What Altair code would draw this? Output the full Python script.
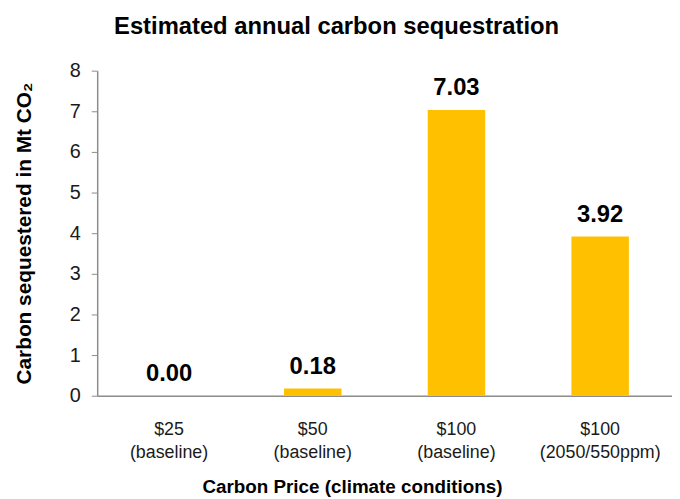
import altair as alt
import pandas as pd

categories = ["$25|(baseline)", "$50|(baseline)", "$100|(baseline)", "$100|(2050/550ppm)"]
values = [0.00, 0.18, 7.03, 3.92]

df = pd.DataFrame({"category": categories, "value": values})

FONT = "Liberation Sans, Arial, Helvetica, sans-serif"

base = alt.Chart(df).encode(
    x=alt.X(
        "category:N",
        sort=categories,
        scale=alt.Scale(paddingInner=0.6, paddingOuter=0.3),
        axis=alt.Axis(
            title="Carbon Price (climate conditions)",
            labelExpr="split(datum.label, '|')",
            labelAngle=0,
            labelFontSize=18,
            labelLineHeight=23,
            labelPadding=25,
            labelColor="#1a1a1a",
            labelFont=FONT,
            ticks=False,
            domainColor="#8c8c8c",
            domainWidth=1.5,
            titleFont=FONT,
            titleFontSize=19,
            titleFontWeight="bold",
            titleColor="#000000",
            titlePadding=17,
            titleX=257,
        ),
    ),
    y=alt.Y(
        "value:Q",
        scale=alt.Scale(domain=[0, 8], nice=False),
        axis=alt.Axis(
            title="Carbon sequestered in Mt CO₂",
            values=[0, 1, 2, 3, 4, 5, 6, 7, 8],
            grid=False,
            tickSize=6,
            tickColor="#8c8c8c",
            domainColor="#8c8c8c",
            domainWidth=1.5,
            labelFontSize=20,
            labelPadding=11,
            labelColor="#1a1a1a",
            labelFont=FONT,
            titleFont=FONT,
            titleFontSize=21,
            titleFontWeight="bold",
            titleColor="#000000",
            titlePadding=35,
        ),
    ),
)

bars = base.mark_bar(color="#FFC000")
labels = base.mark_text(
    dy=-15, baseline="alphabetic", fontSize=24, fontWeight="bold", font=FONT, color="#000000"
).encode(text=alt.Text("value:Q", format=".2f"))

chart = (
    (bars + labels)
    .properties(
        width=580,
        height=328,
        autosize="none",
        padding={"left": 90, "top": 61, "right": 0, "bottom": 102},
        title=alt.Title(
            "Estimated annual carbon sequestration",
            anchor="start",
            frame="group",
            dx=17,
            offset=22,
            fontSize=24,
            fontWeight="bold",
            font=FONT,
            color="#000000",
        ),
    )
    .configure_view(stroke=None)
)

chart.save("out.html", embed_options={"renderer": "svg", "actions": False})
